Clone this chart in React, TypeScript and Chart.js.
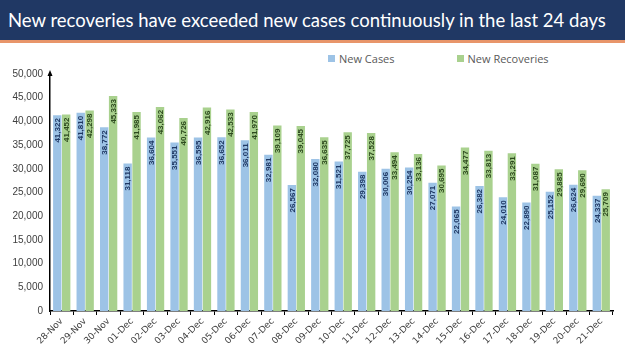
import React, { useEffect, useRef } from "react";
import { Chart, registerables } from "chart.js";

Chart.register(...registerables);

const categories = [
  "28-Nov", "29-Nov", "30-Nov", "01-Dec", "02-Dec", "03-Dec", "04-Dec", "05-Dec",
  "06-Dec", "07-Dec", "08-Dec", "09-Dec", "10-Dec", "11-Dec", "12-Dec", "13-Dec",
  "14-Dec", "15-Dec", "16-Dec", "17-Dec", "18-Dec", "19-Dec", "20-Dec", "21-Dec",
];

const newCases = [
  41322, 41810, 38772, 31118, 36604, 35551, 36595, 36652, 36011, 32981, 26567, 32080,
  31521, 29398, 30006, 30254, 27071, 22065, 26382, 24010, 22890, 25152, 26624, 24337,
];

const newRecoveries = [
  41452, 42298, 45333, 41985, 43062, 40726, 42916, 42533, 41970, 39109, 39045, 36635,
  37725, 37528, 33494, 33136, 30695, 34477, 33813, 33291, 31087, 29885, 29690, 25709,
];

const yMin = 0;
const yMax = 50000;
const yStep = 5000;

const BLUE = "#9dc3e6";
const GREEN = "#a9d18e";
const labelColors = ["#1f3864", "#2d4a1e"];

const fmt = (v: number) => v.toLocaleString("en-US");

const barLabels = {
  id: "barLabels",
  afterDatasetsDraw(chart: any) {
    const ctx = chart.ctx;
    ctx.save();
    ctx.font = "bold 8px 'Liberation Sans', Arial, sans-serif";
    chart.data.datasets.forEach((ds: any, di: number) => {
      const meta = chart.getDatasetMeta(di);
      ctx.fillStyle = labelColors[di];
      meta.data.forEach((el: any, i: number) => {
        ctx.save();
        ctx.translate(el.x, el.y + 3);
        ctx.rotate(-Math.PI / 2);
        ctx.textAlign = "right";
        ctx.textBaseline = "middle";
        ctx.fillText(fmt(ds.data[i]), 0, 0.5);
        ctx.restore();
      });
    });
    ctx.restore();
  },
};

const axisArrow = {
  id: "axisArrow",
  afterDraw(chart: any) {
    const ctx = chart.ctx;
    const x = chart.scales.y.left + chart.scales.y.width;
    const top = chart.chartArea.top;
    ctx.save();
    ctx.fillStyle = "#000";
    ctx.beginPath();
    ctx.moveTo(x, top - 4);
    ctx.lineTo(x - 2.5, top + 2);
    ctx.lineTo(x + 2.5, top + 2);
    ctx.closePath();
    ctx.fill();
    ctx.restore();
  },
};

export default function App() {
  const canvasRef = useRef<HTMLCanvasElement | null>(null);

  useEffect(() => {
    document.body.style.margin = "0";
    const chart = new Chart(canvasRef.current as HTMLCanvasElement, {
      type: "bar",
      data: {
        labels: categories,
        datasets: [
          {
            label: "New Cases",
            data: newCases,
            backgroundColor: BLUE,
            barPercentage: 0.94,
            categoryPercentage: 0.76,
          },
          {
            label: "New Recoveries",
            data: newRecoveries,
            backgroundColor: GREEN,
            barPercentage: 0.94,
            categoryPercentage: 0.76,
          },
        ],
      },
      options: {
        animation: false,
        responsive: false,
        maintainAspectRatio: false,
        layout: { padding: { top: 31, right: 12, left: 0, bottom: 0 } },
        plugins: {
          legend: { display: false },
          tooltip: { enabled: false },
        },
        scales: {
          x: {
            offset: true,
            grid: {
              display: true,
              offset: true,
              drawOnChartArea: false,
              drawTicks: true,
              tickLength: 4,
              color: "#000",
            },
            border: { display: true, color: "#000", width: 1.5 },
            ticks: {
              maxRotation: 45,
              minRotation: 45,
              autoSkip: false,
              color: "#404040",
              padding: 1,
              font: { size: 9, family: "'DejaVu Sans', sans-serif" },
            },
            afterFit(scale: any) {
              scale.height = 40;
            },
          },
          y: {
            min: yMin,
            max: yMax,
            ticks: {
              stepSize: yStep,
              color: "#404040",
              padding: 7,
              font: { size: 10, family: "'Liberation Sans', sans-serif" },
              callback: (v: any) => fmt(Number(v)),
            },
            grid: { display: false, drawTicks: false },
            border: { display: true, color: "#000", width: 1.5 },
            afterFit(scale: any) {
              scale.width = 50;
            },
          },
        },
      },
      plugins: [barLabels, axisArrow],
    });
    return () => chart.destroy();
  }, []);

  return (
    <div style={{ position: "relative", width: 625, height: 351, background: "#fff", overflow: "hidden" }}>
      <div
        style={{
          position: "absolute",
          left: 0,
          top: 0,
          width: 625,
          height: 40,
          background: "#203864",
          color: "#fff",
          fontFamily: "Lato, 'Open Sans', sans-serif",
          fontSize: 18.5,
          lineHeight: "40px",
          paddingLeft: 8,
          boxSizing: "border-box",
          whiteSpace: "nowrap",
        }}
      >
        New recoveries have exceeded new cases continuously in the last 24 days
      </div>
      <div style={{ position: "absolute", left: 0, top: 40, width: 625, height: 3, background: "#e8956a" }} />
      <div
        style={{
          position: "absolute",
          top: 51,
          left: 328,
          display: "flex",
          alignItems: "center",
          fontFamily: "'Open Sans', sans-serif",
          fontSize: 11,
          color: "#595959",
        }}
      >
        <span style={{ display: "inline-block", width: 7, height: 7, background: BLUE, marginRight: 4 }} />
        <span style={{ marginRight: 62 }}>New Cases</span>
        <span style={{ display: "inline-block", width: 7, height: 7, background: GREEN, marginRight: 4 }} />
        <span>New Recoveries</span>
      </div>
      <canvas
        ref={canvasRef}
        width={625}
        height={308}
        style={{ position: "absolute", left: 0, top: 43, width: 625, height: 308 }}
      />
    </div>
  );
}
